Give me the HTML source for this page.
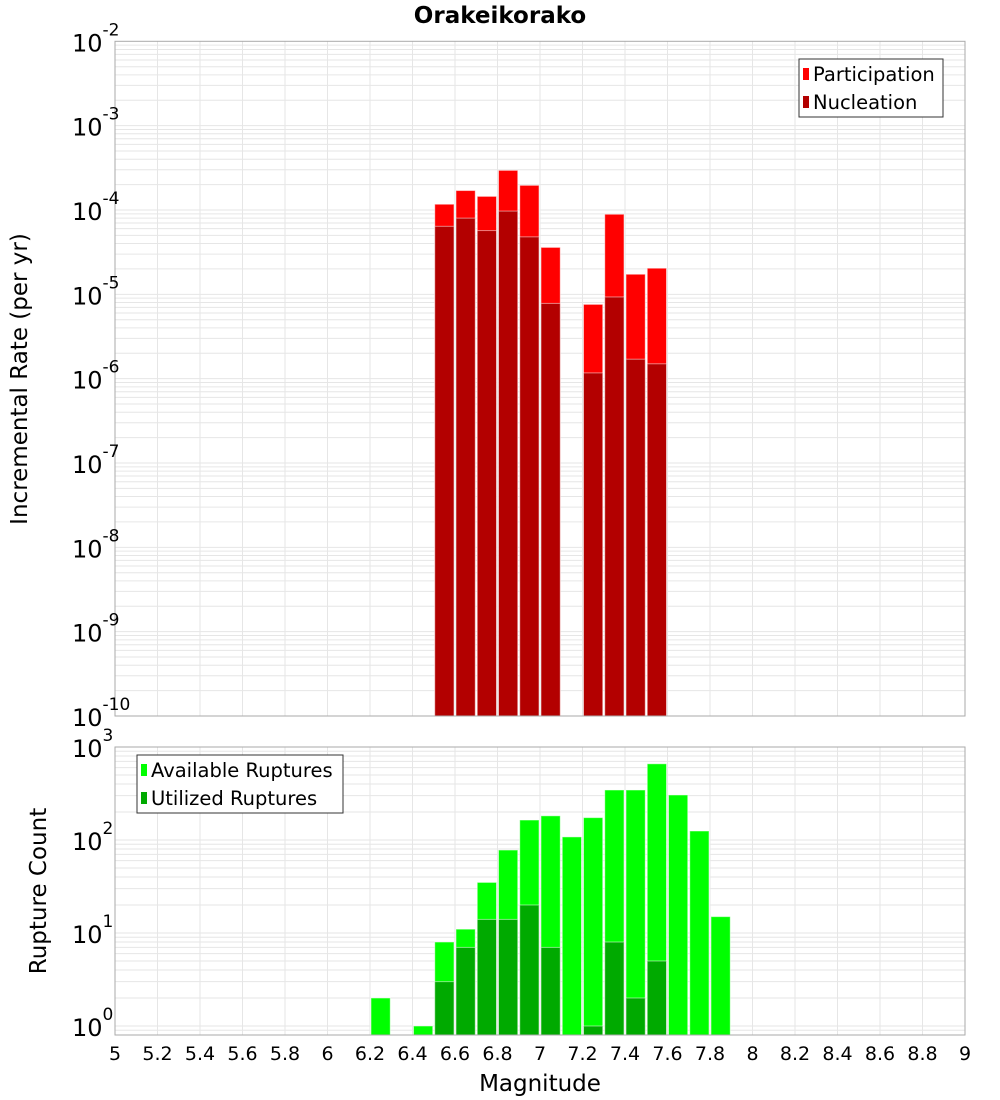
<!DOCTYPE html>
<html><head><meta charset="utf-8"><style>
body{margin:0;background:#fff;}
svg{display:block;font-family:"DejaVu Sans","Liberation Sans",sans-serif;}
</style></head><body>
<svg id="chart" width="1000" height="1100" xmlns="http://www.w3.org/2000/svg"></svg>
<script>
const mags = [6.55,6.65,6.75,6.85,6.95,7.05,7.25,7.35,7.45,7.55];
const participation = [1.17e-4,1.7e-4,1.45e-4,2.95e-4,1.96e-4,3.6e-5,7.6e-6,8.9e-5,1.73e-5,2.04e-5];
const nucleation = [6.4e-5,8e-5,5.7e-5,9.7e-5,4.8e-5,7.8e-6,1.17e-6,9.3e-6,1.7e-6,1.5e-6];
const countMags = [6.25,6.45,6.55,6.65,6.75,6.85,6.95,7.05,7.15,7.25,7.35,7.45,7.55,7.65,7.75,7.85];
const available = [2,1,8,11,35,78,164,182,108,174,345,345,660,305,125,15];
const utilized = [0,0,3,7,14,14,20,7,0,1,8,2,5,0,0,0];
const xTicks = ["5","5.2","5.4","5.6","5.8","6","6.2","6.4","6.6","6.8","7","7.2","7.4","7.6","7.8","8","8.2","8.4","8.6","8.8","9"];

const svg=document.getElementById('chart');
const NS='http://www.w3.org/2000/svg';
function mk(t,a,p){const e=document.createElementNS(NS,t);for(const k in a)e.setAttribute(k,a[k]);(p||svg).appendChild(e);return e;}
const L=115,R=965;
const xS=v=>L+(v-5)/4*(R-L);
const T1=41.3,B1=716;
const y1=v=>T1+(-2-Math.log10(v))*(B1-T1)/8;
const T2=747,B2=1035;
const y2=v=>1026-Math.log10(v)*93;

function grid(T,B,yf,dmin,dmax){
  const g=mk('g',{});
  
  
  for(let i=0;i<=20;i++){const x=xS(5+i*0.2);mk('line',{x1:x,x2:x,y1:T,y2:B,stroke:'#e6e6e6','stroke-width':1},g);}
  for(let d=dmin;d<=dmax;d++)for(let m=1;m<10;m++){const y=yf(m*Math.pow(10,d));if(y>=T-0.5&&y<=B+0.5)mk('line',{x1:L,x2:R,y1:y,y2:y,stroke:'#e6e6e6','stroke-width':1},g);}
}
grid(T1,B1,y1,-10,-3);
grid(T2,B2,y2,-1,2);

function bars(ms,vals,yf,col,name,B){
  ms.forEach((m,i)=>{if(vals[i]<=0)return;
    const x0=xS(m-0.05)+1,x1=xS(m+0.05)-1,y=Math.max(yf(vals[i]),0);
    const r=mk('rect',{x:x0,y:y,width:x1-x0,height:B-y,fill:col,stroke:'rgba(255,255,255,0.5)','stroke-width':1});
    
    
  });
}
bars(mags,participation,y1,'#ff0000','participation-bar',B1);
bars(mags,nucleation,y1,'#b30000','nucleation-bar',B1);
bars(countMags,available,y2,'#00ff00','available-bar',B2);
bars(countMags,utilized,y2,'#00aa00','utilized-bar',B2);

mk('rect',{x:L,y:T1,width:R-L,height:B1-T1,fill:'none',stroke:'#aaa'});
mk('rect',{x:L,y:T2,width:R-L,height:B2-T2,fill:'none',stroke:'#aaa'});

function ylab(y,exp,name){
  const t=mk('text',{x:72,y:y+10,'font-size':24,fill:'#000'});
  t.textContent='10';
  const s=mk('tspan',{dy:-16,'font-size':17},t);s.textContent=exp;
  
  
}
for(let d=-2;d>=-10;d--)ylab(y1(Math.pow(10,d)),String(d),'top-y-tick');
for(let d=3;d>=0;d--)ylab(y2(Math.pow(10,d)),String(d),'bottom-y-tick');

xTicks.forEach(s=>{const t=mk('text',{x:xS(parseFloat(s)),y:1060,'font-size':19,'text-anchor':'middle'});t.textContent=s;
  
  });

let t=mk('text',{x:540,y:1091,'font-size':23,'text-anchor':'middle'});t.textContent='Magnitude';

t=mk('text',{x:0,y:0,'font-size':23,'text-anchor':'middle',transform:'translate(27,379) rotate(-90)'});t.textContent='Incremental Rate (per yr)';

t=mk('text',{x:0,y:0,'font-size':23,'text-anchor':'middle',transform:'translate(46,891) rotate(-90)'});t.textContent='Rupture Count';

t=mk('text',{x:500,y:23,'font-size':23,'font-weight':'bold','text-anchor':'middle'});t.textContent='Orakeikorako';


function legend(x,y,w,items,name){
  const g=mk('g',{});
  
  
  mk('rect',{x:x,y:y,width:w,height:58,fill:'#fff',stroke:'#333'},g);
  items.forEach((it,i)=>{const cy=y+15+i*28;
    mk('rect',{x:x+4,y:cy-6,width:6,height:12,fill:it[1]},g);
    const tt=mk('text',{x:x+14,y:cy+7,'font-size':19.5},g);tt.textContent=it[0];});
}
legend(799,59,144,[['Participation','#ff0000'],['Nucleation','#b30000']],'top-legend');
legend(137,755,206,[['Available Ruptures','#00ff00'],['Utilized Ruptures','#00aa00']],'bottom-legend');
</script>
</body></html>
